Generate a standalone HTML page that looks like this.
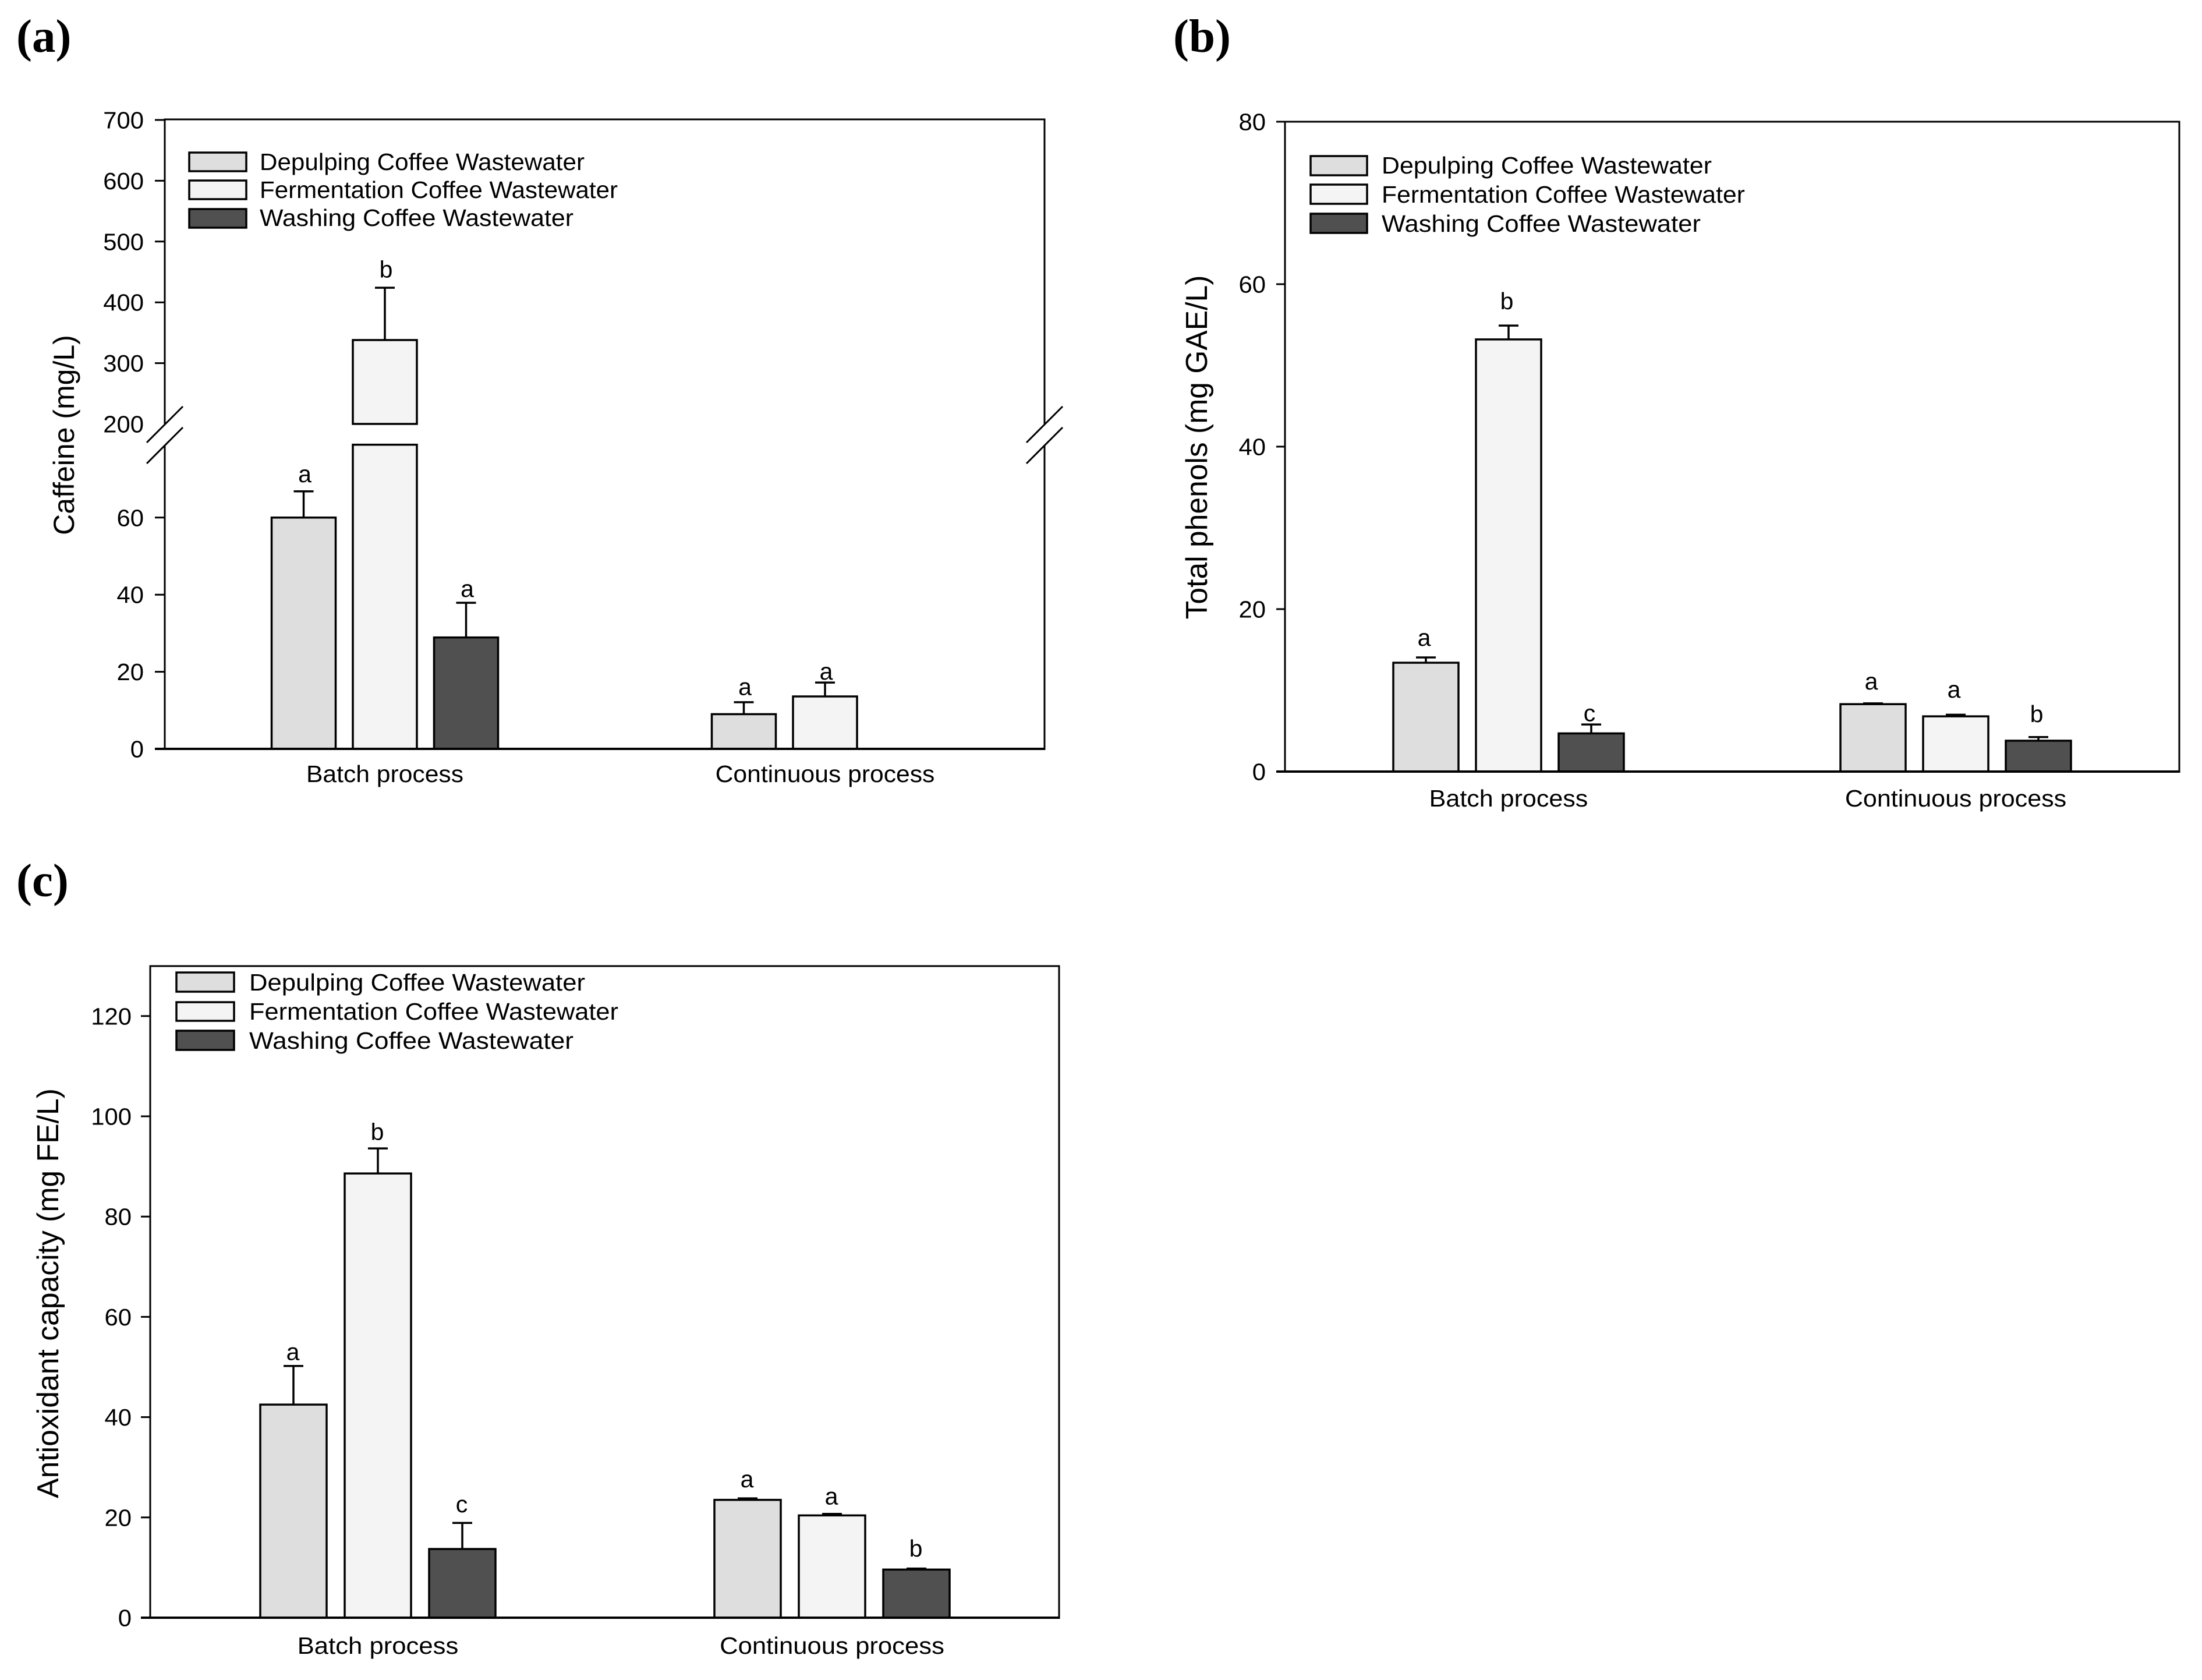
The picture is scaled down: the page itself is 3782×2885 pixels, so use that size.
<!DOCTYPE html>
<html lang="en">
<head>
<meta charset="utf-8">
<title>Coffee wastewater bar charts</title>
<style>
  html, body { margin: 0; padding: 0; background: #fff; }
  svg { display: block; }
  text { font-family: "Liberation Sans", Arial, sans-serif; fill: #000; }
  .panel-label { font-family: "Liberation Serif", serif; font-weight: bold; font-size: 81px; }
</style>
</head>
<body>
<svg id="figure" xmlns="http://www.w3.org/2000/svg" width="3782" height="2885" viewBox="0 0 3782 2885">
  <rect x="0" y="0" width="3782" height="2885" fill="#fff"/>

  <text class="panel-label" x="28" y="89">(a)</text>
  <text class="panel-label" x="2015" y="89">(b)</text>
  <text class="panel-label" x="28" y="1539">(c)</text>

  <g id="panel-a">
    <text transform="translate(127 747) rotate(-90)" text-anchor="middle" font-size="50">Caffeine (mg/L)</text>
    <g font-size="40.5">
      <rect x="325" y="262" width="98" height="32" fill="#dedede" stroke="#000" stroke-width="3.5"/>
      <rect x="325" y="310" width="98" height="32" fill="#f4f4f4" stroke="#000" stroke-width="3.5"/>
      <rect x="325" y="359" width="98" height="32" fill="#505050" stroke="#000" stroke-width="3.5"/>
      <text x="446" y="292" textLength="558" lengthAdjust="spacingAndGlyphs">Depulping Coffee Wastewater</text>
      <text x="446" y="340" textLength="615" lengthAdjust="spacingAndGlyphs">Fermentation Coffee Wastewater</text>
      <text x="446" y="388" textLength="539" lengthAdjust="spacingAndGlyphs">Washing Coffee Wastewater</text>
    </g>
  </g>

  <g id="panel-b">
    <text transform="translate(2073 768) rotate(-90)" text-anchor="middle" font-size="51.6">Total phenols (mg GAE/L)</text>
    <g font-size="40.5">
      <rect x="2251" y="268" width="97" height="33" fill="#dedede" stroke="#000" stroke-width="3.5"/>
      <rect x="2251" y="317" width="97" height="33" fill="#f4f4f4" stroke="#000" stroke-width="3.5"/>
      <rect x="2251" y="367" width="97" height="33" fill="#505050" stroke="#000" stroke-width="3.5"/>
      <text x="2373" y="298" textLength="567" lengthAdjust="spacingAndGlyphs">Depulping Coffee Wastewater</text>
      <text x="2373" y="348" textLength="624" lengthAdjust="spacingAndGlyphs">Fermentation Coffee Wastewater</text>
      <text x="2373" y="398" textLength="548" lengthAdjust="spacingAndGlyphs">Washing Coffee Wastewater</text>
    </g>
  </g>

  <g id="panel-c">
    <text transform="translate(100 2221) rotate(-90)" text-anchor="middle" font-size="51.7">Antioxidant capacity (mg FE/L)</text>
    <g font-size="41">
      <rect x="303" y="1670" width="99" height="33" fill="#dedede" stroke="#000" stroke-width="3.5"/>
      <rect x="303" y="1721" width="99" height="32" fill="#f4f4f4" stroke="#000" stroke-width="3.5"/>
      <rect x="303" y="1770" width="99" height="33" fill="#505050" stroke="#000" stroke-width="3.5"/>
      <text x="428" y="1701" textLength="577" lengthAdjust="spacingAndGlyphs">Depulping Coffee Wastewater</text>
      <text x="428" y="1751" textLength="634" lengthAdjust="spacingAndGlyphs">Fermentation Coffee Wastewater</text>
      <text x="428" y="1801" textLength="557" lengthAdjust="spacingAndGlyphs">Washing Coffee Wastewater</text>
    </g>
  </g>
</svg>

<script>
// ---- Shared categories and series ----
const categories = ['Batch process', 'Continuous process'];
const seriesKeys = ['depulping', 'fermentation', 'washing'];
const seriesFills = ['#dedede', '#f4f4f4', '#505050'];

// ---- Panel (a): caffeine, mg/L ----
const caffeineTicks = [0, 20, 40, 60, 200, 300, 400, 500, 600, 700];
const caffeineDepulping = [60, 9];
const caffeineFermentation = [338, 13.6];
const caffeineWashing = [28.9, null];
const caffeineDepulpingErr = [6.8, 3.1];
const caffeineFermentationErr = [86, 3.6];
const caffeineWashingErr = [9, null];
const caffeineDepulpingLetters = ['a', 'a'];
const caffeineFermentationLetters = ['b', 'a'];
const caffeineWashingLetters = ['a', null];
const caffeineDepulpingLetterLevels = [69.2, 14];
const caffeineFermentationLetterLevels = [441, 18];
const caffeineWashingLetterLevels = [39.4, null];

// ---- Panel (b): total phenols, mg GAE/L ----
const phenolTicks = [0, 20, 40, 60, 80];
const phenolDepulping = [13.4, 8.3];
const phenolFermentation = [53.2, 6.8];
const phenolWashing = [4.7, 3.8];
const phenolDepulpingErr = [0.65, 0.1];
const phenolFermentationErr = [1.7, 0.2];
const phenolWashingErr = [1.1, 0.45];
const phenolDepulpingLetters = ['a', 'a'];
const phenolFermentationLetters = ['b', 'a'];
const phenolWashingLetters = ['c', 'b'];
const phenolDepulpingLetterLevels = [15.5, 10.1];
const phenolFermentationLetterLevels = [56.9, 9.1];
const phenolWashingLetterLevels = [6.2, 6.1];

// ---- Panel (c): antioxidant capacity, mg FE/L ----
const antioxTicks = [0, 20, 40, 60, 80, 100, 120];
const antioxDepulping = [42.5, 23.5];
const antioxFermentation = [88.6, 20.4];
const antioxWashing = [13.7, 9.6];
const antioxDepulpingErr = [7.7, 0.3];
const antioxFermentationErr = [5, 0.3];
const antioxWashingErr = [5.2, 0.2];
const antioxDepulpingLetters = ['a', 'a'];
const antioxFermentationLetters = ['b', 'a'];
const antioxWashingLetters = ['c', 'b'];
const antioxDepulpingLetterLevels = [51.4, 26];
const antioxFermentationLetterLevels = [95.3, 22.6];
const antioxWashingLetterLevels = [21, 12.2];

const SVG_NS = 'http://www.w3.org/2000/svg';

function make(parent, tag, geometry) {
  const node = document.createElementNS(SVG_NS, tag);
  for (const key in geometry) {
    node.setAttribute(key, geometry[key]);
  }
  parent.appendChild(node);
  return node;
}

function drawLine(parent, name, x1, y1, x2, y2, width) {
  const line = make(parent, 'line', { x1: x1, y1: y1, x2: x2, y2: y2, stroke: '#000', 'stroke-width': width });
  
  
  return line;
}

function drawLabel(parent, name, content, x, y, anchor, scaleX) {
  const label = make(parent, 'text', {
    transform: 'translate(' + x + ' ' + y + ') scale(' + scaleX + ' 1)',
    'text-anchor': anchor, 'font-size': 41
  });
  label.textContent = content;
  
  
  return label;
}

function drawPanel(cfg) {
  const root = document.getElementById(cfg.id);
  const marks = make(root, 'g', {});
  
  

  const barX = (cat, ser) => cfg.firstGroup + cat * cfg.groupStep + (ser - 1) * cfg.barPitch;

  // bars, error bars, significance letters
  seriesKeys.forEach(function (key, s) {
    categories.forEach(function (cat, c) {
      const value = cfg.values[s][c];
      if (value === null) return;
      const cx = barX(c, s);
      const left = cx - cfg.barWidth / 2;
      const errTop = cfg.y(value + cfg.errors[s][c]);

      drawLine(marks, 'error-stem-' + key + '-' + c, cx, cfg.y(value), cx, errTop, 3.5);
      drawLine(marks, 'error-cap-' + key + '-' + c, cx - 17, errTop, cx + 17, errTop, 3.5);

      const segments = cfg.barSegments(value);
      segments.forEach(function (seg, i) {
        const top = cfg.y(seg[1]);
        const bottom = cfg.y(seg[0]);
        const bar = make(marks, 'rect', {
          x: left, y: top, width: cfg.barWidth, height: bottom - top,
          fill: seriesFills[s], stroke: '#000', 'stroke-width': 3.5
        });
        
        
      });

      drawLabel(marks, 'significance-letter-' + key + '-' + c, cfg.letters[s][c],
        cx + cfg.letterDx, cfg.y(cfg.letterLevels[s][c]), 'middle', 1);
    });
  });

  // frame
  const f = cfg.frame;
  drawLine(root, 'plot-top-border', f.left - 1.5, f.top, f.right + 1.5, f.top, 3);
  drawLine(root, 'x-axis-line', f.left - cfg.tickLen, f.bottom, f.right + 1.5, f.bottom, 4);
  if (cfg.breakGap) {
    const g = cfg.breakGap;
    drawLine(root, 'y-axis-upper', f.left, f.top, f.left, g.upper, 3);
    drawLine(root, 'y-axis-lower', f.left, g.lower, f.left, f.bottom, 3);
    drawLine(root, 'right-border-upper', f.right, f.top, f.right, g.upper, 3);
    drawLine(root, 'right-border-lower', f.right, g.lower, f.right, f.bottom, 3);
    [f.left, f.right].forEach(function (ax) {
      drawLine(root, 'axis-break-slash-upper', ax - 31, g.upper + 32, ax + 31, g.upper - 30, 3);
      drawLine(root, 'axis-break-slash-lower', ax - 31, g.lower + 32, ax + 31, g.lower - 30, 3);
    });
  } else {
    drawLine(root, 'y-axis-line', f.left, f.top, f.left, f.bottom, 3);
    drawLine(root, 'right-border', f.right, f.top, f.right, f.bottom, 3);
  }

  // y ticks (the tick at the bottom of the upper axis segment is hidden by the break)
  cfg.ticks.forEach(function (t) {
    const ty = cfg.y(t);
    if (t !== 0 && t !== cfg.hiddenTick) {
      drawLine(root, 'y-tick-' + t, f.left - cfg.tickLen, ty, f.left, ty, 3);
    }
    drawLabel(root, 'y-tick-label-' + t, String(t), cfg.tickLabelRight, ty + 14.5, 'end', 1.02);
  });

  // category labels
  categories.forEach(function (cat, c) {
    drawLabel(root, 'x-category-label-' + c, cat, barX(c, 1), f.bottom + cfg.catOffset, 'middle', cfg.catScale);
  });
}

// Axis functions
const yCaffeine = function (v) {
  if (v <= 80) return 1286 - v * 6.62;
  return 728 - (v - 200) * 1.044;
};
const yPhenol = function (v) { return 1325 - v * 13.95; };
const yAntiox = function (v) { return 2778 - v * 8.61; };

drawPanel({
  id: 'panel-a',
  frame: { left: 283, right: 1794, top: 205, bottom: 1286 },
  breakGap: { upper: 728, lower: 764 },
  hiddenTick: 200,
  y: yCaffeine, ticks: caffeineTicks,
  barSegments: function (v) { return v > 79 ? [[0, 78.9], [200, v]] : [[0, v]]; },
  values: [caffeineDepulping, caffeineFermentation, caffeineWashing],
  errors: [caffeineDepulpingErr, caffeineFermentationErr, caffeineWashingErr],
  letters: [caffeineDepulpingLetters, caffeineFermentationLetters, caffeineWashingLetters],
  letterLevels: [caffeineDepulpingLetterLevels, caffeineFermentationLetterLevels, caffeineWashingLetterLevels],
  firstGroup: 661, groupStep: 756, barPitch: 139.5, barWidth: 110,
  letterDx: 2, tickLen: 17, tickLabelRight: 247, catOffset: 57, catScale: 1.04
});

drawPanel({
  id: 'panel-b',
  frame: { left: 2207, right: 3743, top: 209, bottom: 1325 },
  y: yPhenol, ticks: phenolTicks,
  barSegments: function (v) { return [[0, v]]; },
  values: [phenolDepulping, phenolFermentation, phenolWashing],
  errors: [phenolDepulpingErr, phenolFermentationErr, phenolWashingErr],
  letters: [phenolDepulpingLetters, phenolFermentationLetters, phenolWashingLetters],
  letterLevels: [phenolDepulpingLetterLevels, phenolFermentationLetterLevels, phenolWashingLetterLevels],
  firstGroup: 2591, groupStep: 768, barPitch: 142, barWidth: 112,
  letterDx: -3, tickLen: 15, tickLabelRight: 2174, catOffset: 60, catScale: 1.05
});

drawPanel({
  id: 'panel-c',
  frame: { left: 258, right: 1819, top: 1659, bottom: 2778 },
  y: yAntiox, ticks: antioxTicks,
  barSegments: function (v) { return [[0, v]]; },
  values: [antioxDepulping, antioxFermentation, antioxWashing],
  errors: [antioxDepulpingErr, antioxFermentationErr, antioxWashingErr],
  letters: [antioxDepulpingLetters, antioxFermentationLetters, antioxWashingLetters],
  letterLevels: [antioxDepulpingLetterLevels, antioxFermentationLetterLevels, antioxWashingLetterLevels],
  firstGroup: 649, groupStep: 780, barPitch: 145, barWidth: 114,
  letterDx: -1, tickLen: 16, tickLabelRight: 226, catOffset: 62, catScale: 1.065
});
</script>
</body>
</html>
